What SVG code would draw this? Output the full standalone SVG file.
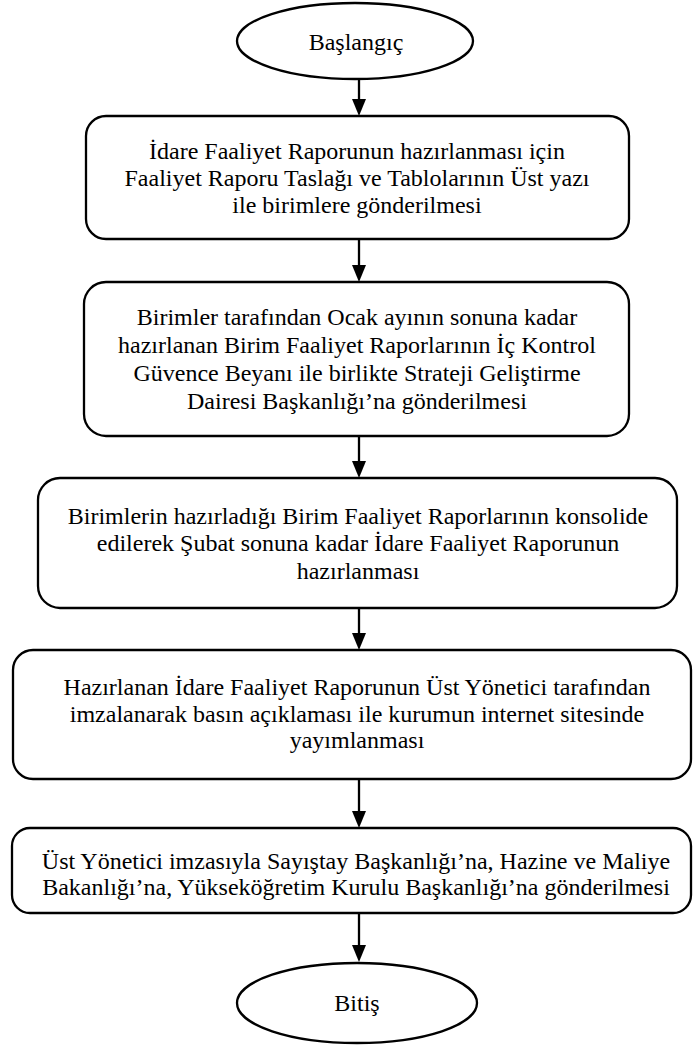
<svg xmlns="http://www.w3.org/2000/svg" width="693" height="1045" viewBox="0 0 693 1045">
<defs>
<style>
.shape{fill:#fff;stroke:#000;stroke-width:2.3}
.t{fill:#000;text-anchor:middle;dominant-baseline:central}
.c{stroke:#000;stroke-width:2.3;fill:none}
.h{fill:#000}
</style>
</defs>
<rect width="693" height="1045" fill="#fff"/>
<g id="connectors">
<line class="c" x1="359" y1="80" x2="359" y2="100"/>
<path class="h" d="M352,99 L366,99 L359,116 Z"/>
<line class="c" x1="359" y1="239" x2="359" y2="266"/>
<path class="h" d="M352,265 L366,265 L359,282 Z"/>
<line class="c" x1="359" y1="436" x2="359" y2="462"/>
<path class="h" d="M352,461 L366,461 L359,478 Z"/>
<line class="c" x1="359" y1="608" x2="359" y2="634"/>
<path class="h" d="M352,633 L366,633 L359,650 Z"/>
<line class="c" x1="359" y1="779" x2="359" y2="812"/>
<path class="h" d="M352,811 L366,811 L359,828 Z"/>
<line class="c" x1="359" y1="913" x2="359" y2="946"/>
<path class="h" d="M352,945 L366,945 L359,962 Z"/>
</g>
<g font-family="Liberation Serif, serif" font-size="24">
<g id="start">
<ellipse class="shape" cx="355" cy="41" rx="118" ry="38"/>
<text class="t" x="356" y="42" font-family="Liberation Serif, serif">Başlangıç</text>
</g>
<g id="step1">
<rect class="shape" x="86" y="116" width="543" height="123" rx="20" ry="20"/>
<text class="t" x="357" y="151" font-family="Liberation Serif, serif">İdare Faaliyet Raporunun hazırlanması için</text>
<text class="t" x="357" y="178" font-family="Liberation Serif, serif">Faaliyet Raporu Taslağı ve Tablolarının Üst yazı</text>
<text class="t" x="357" y="205" font-family="Liberation Serif, serif">ile birimlere gönderilmesi</text>
</g>
<g id="step2">
<rect class="shape" x="84" y="282" width="545" height="154" rx="22" ry="22"/>
<text class="t" x="357" y="317" font-family="Liberation Serif, serif">Birimler tarafından Ocak ayının sonuna kadar</text>
<text class="t" x="357" y="345" font-family="Liberation Serif, serif">hazırlanan Birim Faaliyet Raporlarının İç Kontrol</text>
<text class="t" x="357" y="373" font-family="Liberation Serif, serif">Güvence Beyanı ile birlikte Strateji Geliştirme</text>
<text class="t" x="357" y="401" font-family="Liberation Serif, serif">Dairesi Başkanlığı’na gönderilmesi</text>
</g>
<g id="step3">
<rect class="shape" x="38" y="478" width="639" height="130" rx="22" ry="22"/>
<text class="t" x="358" y="516" font-family="Liberation Serif, serif">Birimlerin hazırladığı Birim Faaliyet Raporlarının konsolide</text>
<text class="t" x="358" y="543" font-family="Liberation Serif, serif">edilerek Şubat sonuna kadar İdare Faaliyet Raporunun</text>
<text class="t" x="358" y="571" font-family="Liberation Serif, serif">hazırlanması</text>
</g>
<g id="step4">
<rect class="shape" x="13" y="650" width="678" height="129" rx="20" ry="20"/>
<text class="t" x="357" y="687" font-family="Liberation Serif, serif">Hazırlanan İdare Faaliyet Raporunun Üst Yönetici tarafından</text>
<text class="t" x="357" y="714" font-family="Liberation Serif, serif">imzalanarak basın açıklaması ile kurumun internet sitesinde</text>
<text class="t" x="357" y="740" font-family="Liberation Serif, serif">yayımlanması</text>
</g>
<g id="step5">
<rect class="shape" x="12" y="828" width="679" height="85" rx="18" ry="18"/>
<text class="t" x="356" y="861" font-family="Liberation Serif, serif">Üst Yönetici imzasıyla Sayıştay Başkanlığı’na, Hazine ve Maliye</text>
<text class="t" x="356" y="887" font-family="Liberation Serif, serif">Bakanlığı’na, Yükseköğretim Kurulu Başkanlığı’na gönderilmesi</text>
</g>
<g id="end">
<ellipse class="shape" cx="357" cy="1003" rx="120" ry="40"/>
<text class="t" x="357" y="1003" font-family="Liberation Serif, serif">Bitiş</text>
</g>
</g>
</svg>
